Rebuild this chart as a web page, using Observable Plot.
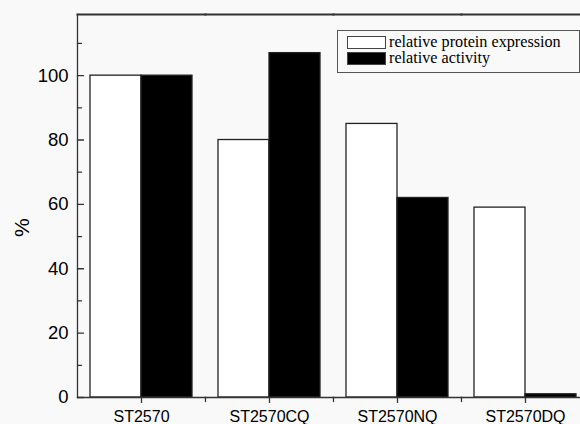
<!DOCTYPE html>
<html><head><meta charset="utf-8">
<script src="https://cdn.jsdelivr.net/npm/d3@7"></script>
<script src="https://cdn.jsdelivr.net/npm/@observablehq/plot@0.6"></script>
<style>
html,body{margin:0;padding:0;background:#f9f9f9;overflow:hidden;}
#wrap{position:relative;width:580px;height:424px;overflow:hidden;}
#chart svg{max-width:none !important;}
#legend{position:absolute;left:337px;top:30px;width:241px;height:41px;border:1px solid #555;font-family:"Liberation Serif","Times New Roman",serif;font-size:16.2px;color:#000;}
.item{position:absolute;left:9px;display:flex;align-items:center;height:13px;}
.item span{line-height:13px;white-space:nowrap;}
.sw{width:37px;height:11px;border:1px solid #444;margin-right:3px;box-sizing:content-box;}
</style></head><body><div id="wrap"><div id="chart"></div><div id="legend"></div></div>
<script>
const categories = ["ST2570", "ST2570CQ", "ST2570NQ", "ST2570DQ"];
const seriesNames = ["relative protein expression", "relative activity"];
const proteinExpression = [100, 80, 85, 59];
const activity = [100, 107, 62, 1];
const yTicks = [0, 20, 40, 60, 80, 100];
const yMinorTicks = [10, 30, 50, 70, 90, 110];
const yMax = 119;
const seriesColors = ["white", "black"];

const data = categories.flatMap((c, i) => [
  {cat: c, series: seriesNames[0], value: proteinExpression[i]},
  {cat: c, series: seriesNames[1], value: activity[i]}
]);

const tickLine = {draw(ctx, l) { ctx.moveTo(0, 0); ctx.lineTo(0, -l); }};
const axisColor = "#333";

const chart = Plot.plot({
  width: 590, height: 424,
  marginTop: 14, marginBottom: 27, marginLeft: 75, marginRight: 0,
  style: {fontFamily: "'Liberation Sans', Arial, sans-serif", background: "transparent", color: "#000", maxWidth: "none"},
  fx: {domain: categories, padding: 0, label: null},
  x: {domain: seriesNames, paddingInner: 0, paddingOuter: 0.25, axis: null},
  y: {domain: [0, yMax], axis: null},
  color: {domain: seriesNames, range: seriesColors},
  marks: [
    Plot.barY(data, {fx: "cat", x: "series", y: "value", fill: "series", stroke: "#222", strokeWidth: 1.3}),
    Plot.frame({anchor: "top", stroke: axisColor, strokeWidth: 2}),
    Plot.frame({anchor: "bottom", stroke: axisColor, strokeWidth: 1.3}),
    Plot.frame({anchor: "left", stroke: axisColor, strokeWidth: 1.3, facetAnchor: "left"}),
    Plot.frame({anchor: "right", stroke: axisColor, strokeWidth: 1.3, facetAnchor: "right"}),
    Plot.vector(yTicks, {y: d => d, frameAnchor: "left", rotate: 90, length: 6, anchor: "start", shape: tickLine, stroke: axisColor, strokeWidth: 1.3, facetAnchor: "left"}),
    Plot.vector(yMinorTicks, {y: d => d, frameAnchor: "left", rotate: 90, length: 4, anchor: "start", shape: tickLine, stroke: axisColor, strokeWidth: 1.3, facetAnchor: "left"}),
    Plot.vector([0], {frameAnchor: "bottom-right", rotate: 180, length: 4, anchor: "start", shape: tickLine, stroke: axisColor, strokeWidth: 1.3}),
    Plot.axisY({ticks: yTicks, tickSize: 0, tickPadding: 9, fontSize: 18.5, label: null}),
    Plot.axisFx({anchor: "bottom", tickSize: 6, tickPadding: 7, fontSize: 16, label: null, stroke: axisColor, strokeWidth: 1.3}),
    Plot.text(["%"], {frameAnchor: "left", facetAnchor: "left", rotate: -90, dx: -55, dy: 31, fontSize: 21})
  ]
});
document.getElementById("chart").appendChild(chart);

const legend = document.getElementById("legend");
seriesNames.forEach((name, i) => {
  const item = document.createElement("div");
  item.className = "item";
  item.style.top = (5 + i * 16) + "px";
  const sw = document.createElement("div");
  sw.className = "sw";
  sw.style.background = seriesColors[i];
  const t = document.createElement("span");
  t.textContent = name;
  item.appendChild(sw);
  item.appendChild(t);
  legend.appendChild(item);
});
</script></body></html>
